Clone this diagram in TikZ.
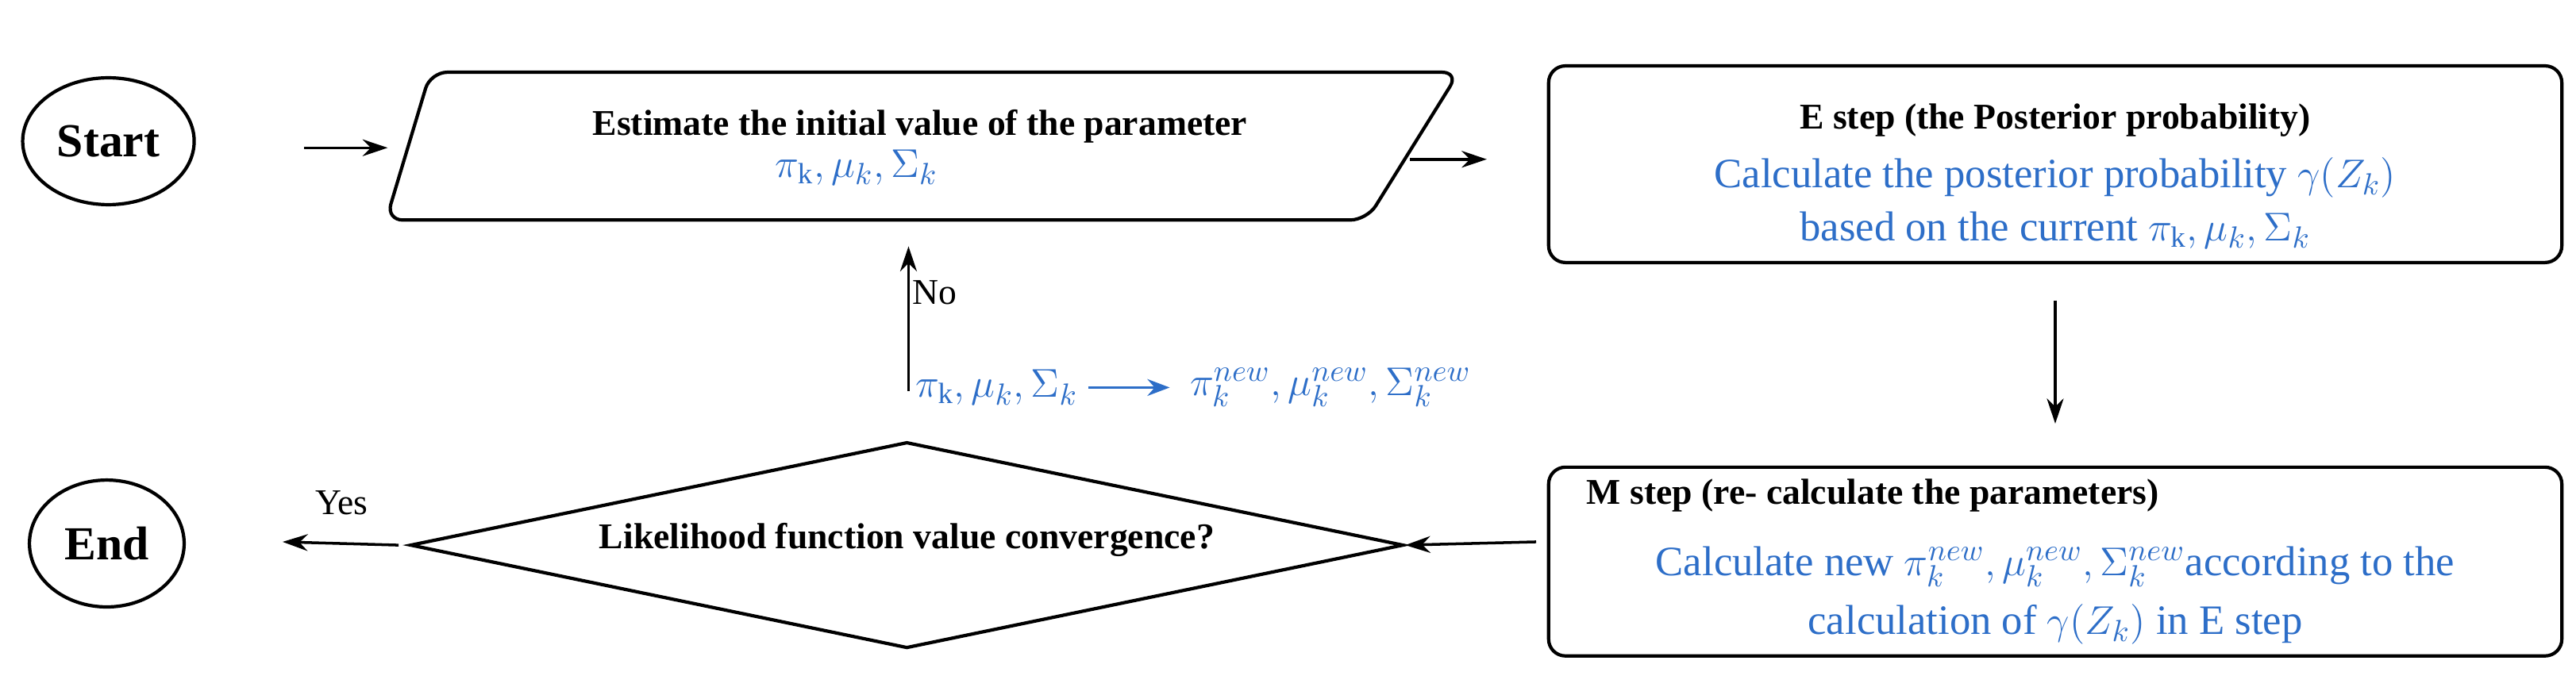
\documentclass[tikz,border=0pt]{standalone}
\usepackage{fontspec}
\setmainfont{Liberation Serif}
\usetikzlibrary{shapes.geometric,arrows.meta}
\definecolor{bl}{RGB}{45,110,200}
\begin{document}
\begin{tikzpicture}[x=0.0207cm,y=-0.0207cm,
  box/.style={draw,line width=1.2pt,rounded corners=6pt},
  arr/.style={-{Stealth[length=9pt,width=6pt]},line width=1pt},
  lbl/.style={font=\fontsize{13}{15}\selectfont\bfseries},
  blt/.style={text=bl,font=\fontsize{15}{17}\selectfont},
  oval/.style={draw,ellipse,line width=1.2pt,minimum width=1.95cm,minimum height=1.6cm,font=\fontsize{17}{19}\selectfont\bfseries}]
\useasboundingbox (0,0) rectangle (1568,423);
\node[oval] (start) at (66,86) {Start};
\node[oval] (end) at (65,331) {End};
% parallelogram
\draw[box] (262,44) -- (888,44) -- (832,134) -- (235,134) -- cycle;
\node[lbl] (est) at (560,77) {Estimate the initial value of the parameter};
\node[blt,anchor=west] (estm) at (466,102) {$\pi_{\mathrm{k}},\mu_k,\Sigma_k$};
% E box
\node[box,minimum width=12.77cm,minimum height=2.48cm] (E) at (1251,100) {};
\node[lbl] at (1251,73) {E step (the Posterior probability)};
\node[blt] at (1251,108) {Calculate the posterior probability $\gamma(Z_k)$};
\node[blt] at (1251,140) {based on the current $\pi_{\mathrm{k}},\mu_k,\Sigma_k$};
% M box
\node[box,minimum width=12.77cm,minimum height=2.38cm] (M) at (1251,342) {};
\node[lbl] at (1140,302) {M step (re- calculate the parameters)};
\node[blt] at (1251,345) {Calculate new $\pi_k^{new},\mu_k^{new},\Sigma_k^{new}$according to the};
\node[blt] at (1251,380) {calculation of $\gamma(Z_k)$ in E step};
% diamond
\node[draw,diamond,line width=1.2pt,minimum width=12.52cm,minimum height=2.6cm,inner sep=0pt] (D) at (552,332) {};
\node[lbl] at (552,329) {Likelihood function value convergence?};
% arrows
\draw[arr] (185,90) -- (236,90);
\draw[arr] (858,97) -- (905,97);
\draw[arr] (E.south) ++(0,22) -- (1251,258);
\draw[arr] (935,330) -- (D.east);
\draw[arr] (D.west) ++(-6,0) -- (172,330);
\node[font=\fontsize{13}{15}\selectfont] at (208,306) {Yes};
\draw[arr] (553,238) -- (553,150);
\node[font=\fontsize{13}{15}\selectfont] at (569,178) {No};
\node[blt,anchor=west,inner sep=0pt] (p1) at (557,236) {$\pi_{\mathrm{k}},\mu_k,\Sigma_k$};
\draw[-{Stealth[length=8pt,width=6pt]},line width=1pt,bl] (p1.east) ++(6,0) -- (712,236);
\node[blt,anchor=west,inner sep=0pt] (p2) at (724,236) {$\pi_k^{new},\mu_k^{new},\Sigma_k^{new}$};
\end{tikzpicture}
\end{document}
